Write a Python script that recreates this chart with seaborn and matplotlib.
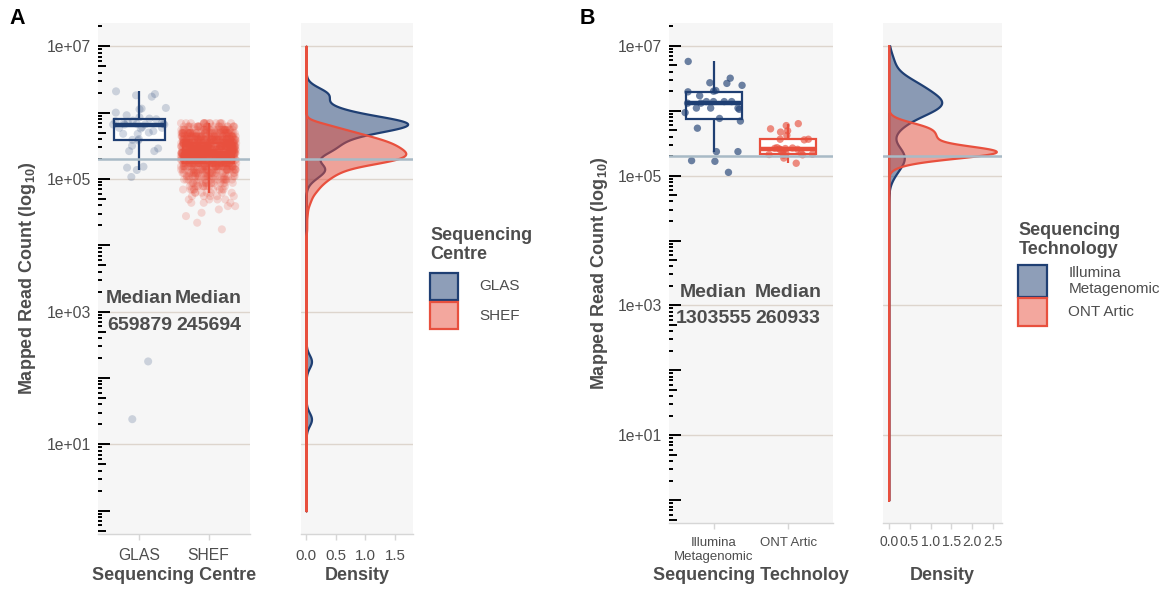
import numpy as np
import pandas as pd
import matplotlib
matplotlib.use("Agg")
import matplotlib.pyplot as plt
import seaborn as sns
from matplotlib.colors import to_rgba
from matplotlib.patches import Rectangle
from matplotlib.ticker import (FixedLocator, FixedFormatter, LogLocator,
                               NullLocator, NullFormatter, FormatStrFormatter)

# ---------------- data ----------------
centre_levels = ["GLAS", "SHEF"]
glas_reads = [2090000, 1905000, 1820000, 1738000, 1175000, 1148000, 1122000,
              1000000, 912000, 851000, 813000, 794000, 759000, 741000, 724000,
              708000, 692000, 676000, 676000, 661000, 661000, 659879, 659879,
              603000, 589000, 589000, 575000, 525000, 501000, 479000, 479000,
              398000, 389000, 380000, 316000, 288000, 263000, 263000, 153000,
              148000, 136500, 107000, 178, 24]
# SHEF samples grouped by mapped read count (value, number of samples)
shef_read_levels = [692400, 617100, 550000, 490200, 436900, 389400, 347000,
                    309300, 275700, 245694, 218980, 195170, 173950, 155030,
                    138170, 123150, 109760, 97820, 87180, 77700, 69250, 62000,
                    55010, 49030, 43700, 38950, 34710, 30940, 27570, 21900,
                    17400]
shef_level_counts = [15, 22, 32, 42, 51, 61, 68, 72, 76, 80, 79, 73, 58, 40,
                     31, 25, 21, 17, 14, 11, 9, 7, 5, 4, 3, 2, 1, 1, 1, 1, 1]

tech_levels = ["Illumina\nMetagenomic", "ONT Artic"]
illumina_reads = [5728000, 3162000, 2692000, 2630000, 2455000, 2042000,
                  1995000, 1950000, 1698000, 1380000, 1380000, 1380000,
                  1380000, 1303555, 1303555, 1096000, 1096000, 1096000,
                  1047000, 933000, 759000, 692000, 537000, 234000, 234000,
                  170000, 166000, 112200]
ont_reads = [631000, 589000, 525000, 490000, 468000, 417000, 363000, 363000,
             355000, 269000, 266000, 263000, 260933, 257000, 254000, 251000,
             221300, 218800, 216300, 213800, 211300, 208900, 206500, 186200,
             154900]

threshold_reads = 200000
median_label_y = 1000
label_decades = [1e1, 1e3, 1e5, 1e7]
label_text = ["1e+01", "1e+03", "1e+05", "1e+07"]
density_ticks_a = [0.0, 0.5, 1.0, 1.5]
density_ticks_b = [0.0, 0.5, 1.0, 1.5, 2.0, 2.5]
y_limits_log10 = (-0.35, 7.35)
kde_clip_log10 = (0, 7)

# ---------------- style ----------------
NAVY = "#1F3F73"
RED = "#E8503E"
PANEL_BG = "#F6F6F6"
GRID = "#DDD5CD"
THRESH = "#A8BAC6"
TEXT = "#4D4D4D"
AXIS_LINE = "#D6D6D6"
FILL_ALPHA = 0.5

sns.set_theme(style="white")
plt.rcParams["font.family"] = ["Liberation Sans", "DejaVu Sans"]
plt.rcParams["mathtext.fontset"] = "custom"
plt.rcParams["mathtext.rm"] = "Liberation Sans"
plt.rcParams["mathtext.it"] = "Liberation Sans:italic"
plt.rcParams["mathtext.bf"] = "Liberation Sans:bold"

W, H = 1169, 590
fig = plt.figure(figsize=(W / 100, H / 100), dpi=100)


def fig_box(x0, y0, x1, y1):
    return [x0 / W, 1 - y1 / H, (x1 - x0) / W, (y1 - y0) / H]


def fx(x):
    return x / W


def fy(y):
    return 1 - y / H


centre_df = pd.DataFrame({
    "reads": np.concatenate([glas_reads,
                             np.repeat(shef_read_levels, shef_level_counts)]).astype(float),
    "group": ["GLAS"] * len(glas_reads) + ["SHEF"] * int(np.sum(shef_level_counts)),
})
tech_df = pd.DataFrame({
    "reads": np.array(illumina_reads + ont_reads, dtype=float),
    "group": [tech_levels[0]] * len(illumina_reads) + [tech_levels[1]] * len(ont_reads),
})


def nrd0_factor(log_vals):
    """Silverman's rule of thumb expressed as a factor of the standard deviation."""
    sd = np.std(log_vals, ddof=1)
    q75, q25 = np.percentile(log_vals, [75, 25])
    bw = 0.9 * min(sd, (q75 - q25) / 1.34) * len(log_vals) ** -0.2
    return bw / sd


def common_y(ax):
    ax.set_yscale("log")
    ax.set_ylim(10 ** y_limits_log10[0], 10 ** y_limits_log10[1])
    ax.set_facecolor(PANEL_BG)
    for s in ["left", "right", "top"]:
        ax.spines[s].set_visible(False)
    ax.spines["bottom"].set_color(AXIS_LINE)
    ax.spines["bottom"].set_linewidth(1.0)
    ax.yaxis.set_major_locator(FixedLocator(label_decades))
    ax.yaxis.grid(True, color=GRID, linewidth=1.0)
    ax.xaxis.grid(False)
    ax.set_axisbelow(True)
    ax.axhline(threshold_reads, color=THRESH, linewidth=1.8, zorder=4)
    ax.set_xlabel("")
    ax.set_ylabel("")


def add_log_ticks(ax):
    ax.yaxis.set_major_formatter(FixedFormatter(label_text))
    ax.yaxis.set_minor_locator(LogLocator(base=10, subs=(2, 3, 4, 6, 7, 8, 9), numticks=100))
    ax.yaxis.set_minor_formatter(NullFormatter())
    ax.tick_params(axis="y", which="major", direction="in", length=8.5, width=1.4,
                   color="black", labelsize=11.3, labelcolor=TEXT, pad=5, left=True)
    ax.tick_params(axis="y", which="minor", direction="in", length=2.8, width=1.4,
                   color="black", left=True)
    for marks, length in ((10.0 ** np.arange(0, 9, 2), 8.5),
                          (5 * 10.0 ** np.arange(-1, 8), 5.7)):
        sec = ax.secondary_yaxis("left")
        sec.spines["left"].set_visible(False)
        sec.set_yticks(marks)
        sec.yaxis.set_minor_locator(NullLocator())
        sec.tick_params(axis="y", which="major", direction="in", length=length,
                        width=1.4, color="black", left=True, labelleft=False)


def box_panel(ax, df, order, colors, point_alpha, point_size, tick_size, tick_pad):
    for lvl, col in zip(order, colors):
        sns.boxplot(data=df[df["group"] == lvl], x="group", y="reads", order=order,
                    ax=ax, log_scale=True, color="white", linecolor=col,
                    linewidth=1.6, width=0.75, showfliers=False, showcaps=False,
                    medianprops={"linewidth": 3.2})
    np.random.seed(7)
    sns.stripplot(data=df, x="group", y="reads", hue="group", order=order,
                  hue_order=order, palette=dict(zip(order, colors)), ax=ax,
                  jitter=0.4, size=point_size, alpha=point_alpha, linewidth=0,
                  legend=False, zorder=3)
    for i, lvl in enumerate(order):
        vals = df.loc[df["group"] == lvl, "reads"]
        ax.text(i, median_label_y, f"Median\n{np.median(vals):.0f}", ha="center",
                va="center", fontsize=14, fontweight="bold", color=TEXT,
                linespacing=1.75, zorder=5)
    ax.set_xlim(-0.6, 1.6)
    common_y(ax)
    add_log_ticks(ax)
    ax.tick_params(axis="x", bottom=True, length=4, width=1.0, color=AXIS_LINE,
                   labelsize=tick_size, labelcolor=TEXT, pad=tick_pad)


def density_panel(ax, groups, colors, ticks, tick_size, tick_pad):
    for vals, col in zip(groups, colors):
        sns.kdeplot(y=vals, ax=ax, log_scale=True, fill=True, color=col,
                    alpha=FILL_ALPHA, linewidth=1.6,
                    bw_method=nrd0_factor(np.log10(vals)), cut=200,
                    clip=kde_clip_log10, gridsize=1500)
    xmax = max(c.get_paths()[0].vertices[:, 0].max() for c in ax.collections)
    ax.set_xlim(-0.05 * xmax, 1.05 * xmax)
    common_y(ax)
    ax.yaxis.set_minor_locator(NullLocator())
    ax.tick_params(axis="y", which="both", left=False, labelleft=False)
    ax.xaxis.set_major_locator(FixedLocator(ticks))
    ax.xaxis.set_major_formatter(FormatStrFormatter("%.1f"))
    ax.tick_params(axis="x", bottom=True, length=4, width=1.0, color=AXIS_LINE,
                   labelsize=tick_size, labelcolor=TEXT, pad=tick_pad)


# ---------------- panel A ----------------
ax_a = fig.add_axes(fig_box(98, 23, 250, 534))
box_panel(ax_a, centre_df, centre_levels, [NAVY, RED], 0.2, 5.8, 11.3, 6)
ax_ad = fig.add_axes(fig_box(301, 23, 412.7, 534))
density_panel(ax_ad, [np.array(glas_reads, float),
                      np.repeat(shef_read_levels, shef_level_counts).astype(float)],
              [NAVY, RED], density_ticks_a, 10.8, 7)

# ---------------- panel B ----------------
ax_b = fig.add_axes(fig_box(668.7, 23, 833, 523))
box_panel(ax_b, tech_df, tech_levels, [NAVY, RED], 0.65, 5.3, 9.5, 5.8)
for t in ax_b.get_xticklabels():
    t.set_linespacing(1.3)
ax_bd = fig.add_axes(fig_box(883.3, 23, 1001.7, 523))
density_panel(ax_bd, [np.array(illumina_reads, float), np.array(ont_reads, float)],
              [NAVY, RED], density_ticks_b, 10.0, 4.5)

# ---------------- titles & labels ----------------
ylab = r"Mapped Read Count (log$_{\mathbf{10}}$)"
title_kw = dict(fontsize=13, fontweight="bold", color=TEXT)
fig.text(fx(28), fy(278.5), ylab, rotation=90, ha="center", va="center", **title_kw)
fig.text(fx(599), fy(273), ylab, rotation=90, ha="center", va="center", **title_kw)
fig.text(fx(174), fy(575), "Sequencing Centre", ha="center", va="center", **title_kw)
fig.text(fx(357), fy(575), "Density", ha="center", va="center", **title_kw)
fig.text(fx(751), fy(575), "Sequencing Technoloy", ha="center", va="center", **title_kw)
fig.text(fx(942), fy(575), "Density", ha="center", va="center", **title_kw)
fig.text(fx(17.5), fy(18.5), "A", ha="center", va="center", fontsize=15.5,
         fontweight="bold", color="black")
fig.text(fx(587.5), fy(18.5), "B", ha="center", va="center", fontsize=15.5,
         fontweight="bold", color="black")

# ---------------- legends (drawn in figure pixel space) ----------------
leg_ax = fig.add_axes([0, 0, 1, 1], facecolor="none")
leg_ax.set_xlim(0, W)
leg_ax.set_ylim(H, 0)
leg_ax.axis("off")


def draw_legend(title, title_xy, labels, colors, key_x, key_y, key_w, key_hs, gap, text_x):
    leg_ax.text(title_xy[0], title_xy[1], title, ha="left", va="top",
                linespacing=1.12, **title_kw)
    y = key_y
    for lab, col, kh in zip(labels, colors, key_hs):
        leg_ax.add_patch(Rectangle((key_x, y), key_w, kh,
                                   facecolor=to_rgba(col, FILL_ALPHA),
                                   edgecolor=col, linewidth=1.6))
        leg_ax.text(text_x, y + kh / 2, lab, ha="left", va="center", fontsize=11,
                    color=TEXT, linespacing=1.2)
        y += kh + gap


draw_legend("Sequencing\nCentre", (430, 227.5), centre_levels, [NAVY, RED],
            430, 272.7, 27.7, [27.5, 27.6], 1.5, 479)
draw_legend("Sequencing\nTechnology", (1018.5, 222), ["Illumina\nMetagenomic", "ONT Artic"],
            [NAVY, RED], 1018.3, 265, 28.4, [32.3, 27.4], 1.0, 1068.3)

fig.savefig("out.png", dpi=100)
